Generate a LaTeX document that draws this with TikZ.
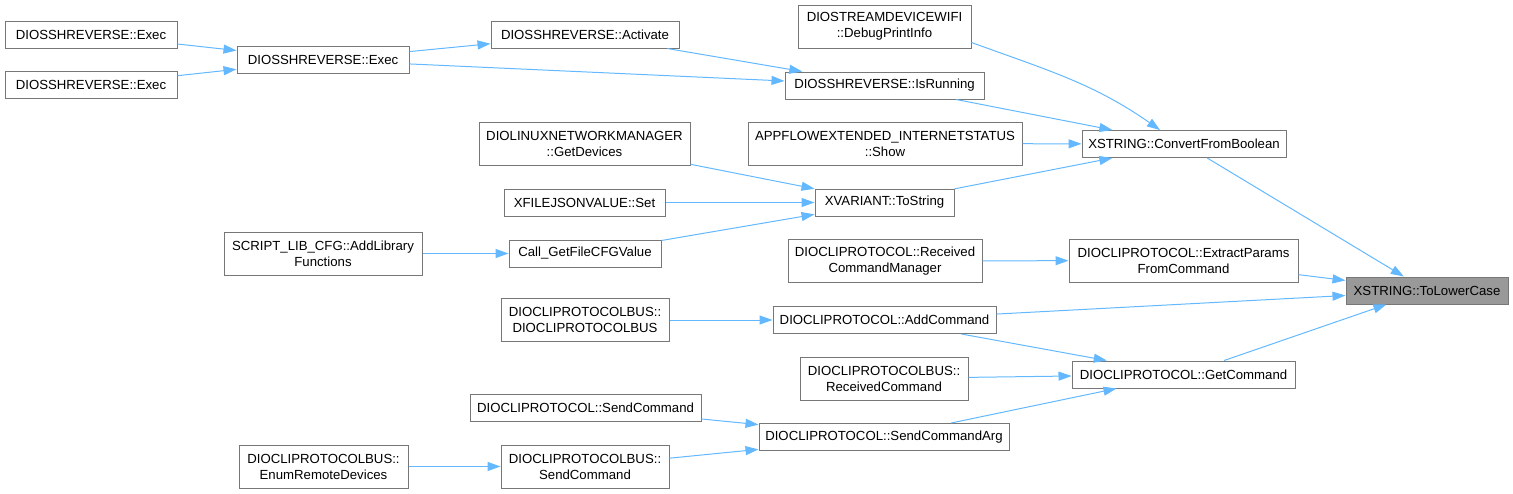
\documentclass[tikz,border=0pt]{standalone}
\usepackage{fontspec}
\setmainfont{Liberation Sans}
\usepackage{tikz}
\usepackage{xcolor}
\usetikzlibrary{arrows.meta,positioning}

\definecolor{edgeblue}{HTML}{63B8FF}
\definecolor{boxgray}{HTML}{777777}
\definecolor{markgray}{HTML}{999999}

\begin{document}
\begin{tikzpicture}[
    x=1pt, y=-1pt,
    font=\fontsize{13.2pt}{16pt}\selectfont,
    func/.style={rectangle, draw=boxgray, fill=white, line width=1pt, inner sep=0pt, align=center, minimum height=27pt},
    func2/.style={func, minimum height=43pt},
    callee/.style={func, fill=markgray},
    arrow/.style={-{Triangle[length=13pt,width=9pt]}, draw=edgeblue, line width=1pt}
]
\useasboundingbox (0,0) rectangle (1513,493);

% Callers of Exec
\node[func, minimum width=172pt] (exec1) at (91,34.5) {DIOSSHREVERSE::Exec};
\node[func, minimum width=172pt] (exec2) at (91,85) {DIOSSHREVERSE::Exec};
\node[func, minimum width=172pt] (execm) at (323,60) {DIOSSHREVERSE::Exec};
\node[func, minimum width=188pt] (activate) at (585,34.5) {DIOSSHREVERSE::Activate};

% Column of XSTRING::ConvertFromBoolean callers
\node[func2, minimum width=173pt] (debug) at (884.5,26.5) {DIOSTREAMDEVICEWIFI\\::DebugPrintInfo};
\node[func, minimum width=199pt] (isrunning) at (884.5,85.5) {DIOSSHREVERSE::IsRunning};
\node[func2, minimum width=274pt] (appflow) at (885,143.5) {APPFLOWEXTENDED\_INTERNETSTATUS\\::Show};
\node[func, minimum width=139pt] (tostring) at (884.5,202.5) {XVARIANT::ToString};
\node[func, minimum width=204pt] (convbool) at (1184,144) {XSTRING::ConvertFromBoolean};

% Callers of XVARIANT::ToString
\node[func2, minimum width=211pt] (getdevices) at (584.5,143.5) {DIOLINUXNETWORKMANAGER\\::GetDevices};
\node[func, minimum width=161pt] (xfset) at (584.5,202.5) {XFILEJSONVALUE::Set};
\node[func, minimum width=152pt] (callget) at (585,253.5) {Call\_GetFileCFGValue};
\node[func2, minimum width=198pt] (scriptlib) at (323,253.5) {SCRIPT\_LIB\_CFG::AddLibrary\\Functions};

% Command handling
\node[func2, minimum width=194pt] (received) at (885,261) {DIOCLIPROTOCOL::Received\\CommandManager};
\node[func2, minimum width=229pt] (extract) at (1183.5,260.5) {DIOCLIPROTOCOL::ExtractParams\\FromCommand};
\node[func2, minimum width=168pt] (bus1) at (585,320) {DIOCLIPROTOCOLBUS::\\DIOCLIPROTOCOLBUS};
\node[func, minimum width=223pt] (addcmd) at (884.5,320) {DIOCLIPROTOCOL::AddCommand};
\node[func2, minimum width=168pt] (recvcmd) at (884,378.5) {DIOCLIPROTOCOLBUS::\\ReceivedCommand};
\node[func, minimum width=223pt] (getcmd) at (1183.5,374.5) {DIOCLIPROTOCOL::GetCommand};
\node[func, minimum width=231pt] (sendcmd1) at (585.5,407.5) {DIOCLIPROTOCOL::SendCommand};
\node[func, minimum width=250pt] (sendcmdarg) at (884,437) {DIOCLIPROTOCOL::SendCommandArg};
\node[func2, minimum width=169pt] (enumremote) at (323.5,466.5) {DIOCLIPROTOCOLBUS::\\EnumRemoteDevices};
\node[func2, minimum width=168pt] (sendcmd2) at (585,466.5) {DIOCLIPROTOCOLBUS::\\SendCommand};

% The function itself
\node[callee, minimum width=162pt] (tolower) at (1427,290.5) {XSTRING::ToLowerCase};

% Arrows
\draw[arrow] (exec1) -- (execm);
\draw[arrow] (exec2) -- (execm);
\draw[arrow] (execm) -- (activate);
\draw[arrow] (execm) -- (isrunning);
\draw[arrow] (activate) -- (isrunning);
\draw[arrow] ([yshift=-16pt]debug.east) to[out=-20, in=145] ([xshift=-24pt]convbool.north);
\draw[arrow] (isrunning) -- (convbool);
\draw[arrow] (appflow) -- (convbool);
\draw[arrow] (tostring) -- (convbool);
\draw[arrow] (getdevices) -- (tostring);
\draw[arrow] (xfset) -- (tostring);
\draw[arrow] (callget) -- (tostring);
\draw[arrow] (scriptlib) -- (callget);
\draw[arrow] (convbool) -- (tolower);
\draw[arrow] (received) -- (extract);
\draw[arrow] (extract) -- (tolower);
\draw[arrow] (addcmd) -- ([yshift=-5pt]tolower.west);
\draw[arrow] (bus1) -- (addcmd);
\draw[arrow] (addcmd) -- (getcmd);
\draw[arrow] (recvcmd) -- (getcmd);
\draw[arrow] (sendcmdarg) -- (getcmd);
\draw[arrow] (getcmd) -- (tolower);
\draw[arrow] (sendcmd1) -- (sendcmdarg);
\draw[arrow] (sendcmd2) -- (sendcmdarg);
\draw[arrow] (enumremote) -- (sendcmd2);

\end{tikzpicture}
\end{document}
